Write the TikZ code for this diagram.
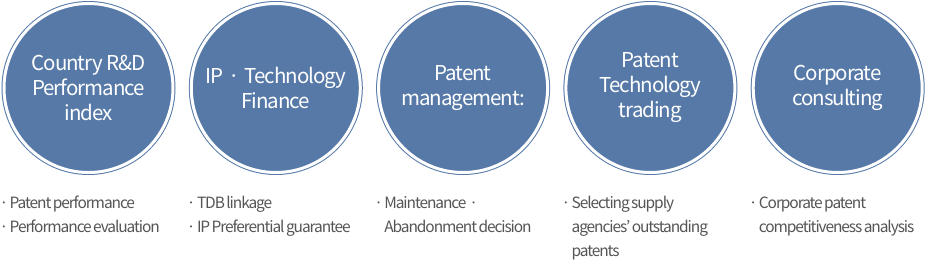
\documentclass[tikz,border=0pt]{standalone}
\usepackage{fontspec}
\setmainfont{Noto Sans CJK KR}
\newfontfamily\bubblefont[LetterSpace=-5]{Noto Sans CJK KR}
\newfontfamily\notefont[LetterSpace=-7, WordSpace=0.6]{Noto Sans CJK KR}
\usepackage{xcolor}
\usetikzlibrary{positioning}
\definecolor{bubbleblue}{HTML}{5679A8}
\definecolor{notegray}{HTML}{555555}

\begin{document}
\begin{tikzpicture}[x=1pt, y=-1pt,
    bubble/.style={circle, fill=bubbleblue, draw=bubbleblue, line width=1pt,
                   double=white, double distance=3pt, minimum size=169pt,
                   text=white, font=\bubblefont\fontsize{20.5}{25}\selectfont, align=center},
    note/.style={anchor=base west, inner sep=0pt, text=notegray,
                 font=\notefont\fontsize{15.5}{24}\selectfont, align=left},
    dot/.style={anchor=base, inner sep=0pt, text=notegray,
                font=\notefont\fontsize{15.5}{24}\selectfont}]
  \useasboundingbox (0,0) rectangle (926,260);
  % circles
  \node[bubble] (rnd)     at (88.5,88)  {Country R\&D\\Performance\\index};
  \node[bubble] (finance) at (275.8,88) {IP\kern5pt·\kern5pt Technology\\Finance};
  \node[bubble] (manage)  at (463.1,88) {Patent\\management:};
  \node[bubble] (trading) at (650.4,88) {Patent\\Technology\\trading};
  \node[bubble] (consult) at (837.7,88) {Corporate\\consulting};
  % notes below (base = last line)
  \node[note] (rndtxt)     at (9.5,232.5)   {Patent performance\\Performance evaluation};
  \node[note] (financetxt) at (196.8,232.5) {TDB linkage\\IP Preferential guarantee};
  \node[note] (managetxt)  at (384.1,232.5) {Maintenance\kern3pt·\\Abandonment decision};
  \node[note] (tradingtxt) at (571.4,256.5) {Selecting supply\\agencies’ outstanding\\patents};
  \node[note] (consulttxt) at (758.7,232.5) {Corporate patent\\competitiveness analysis};
  \node[dot] (d1) at (4,208.5)     {·};
  \node[dot] (d2) at (4,232.5)     {·};
  \node[dot] (d3) at (191.3,208.5) {·};
  \node[dot] (d4) at (191.3,232.5) {·};
  \node[dot] (d5) at (378.6,208.5) {·};
  \node[dot] (d6) at (565.9,208.5) {·};
  \node[dot] (d7) at (753.2,208.5) {·};
\end{tikzpicture}
\end{document}
